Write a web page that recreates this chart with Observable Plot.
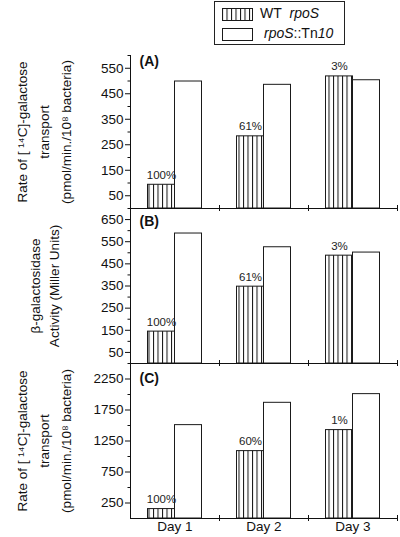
<!DOCTYPE html>
<html>
<head>
<meta charset="utf-8">
<script src="https://cdn.jsdelivr.net/npm/d3@7"></script>
<script src="https://cdn.jsdelivr.net/npm/@observablehq/plot@0.6"></script>
<style>
  html, body { margin: 0; padding: 0; background: white; }
  #root { position: relative; width: 400px; height: 537px; font-family: "Liberation Sans", Arial, sans-serif; overflow: hidden; }
  #root svg.plot-panel { position: absolute; left: 0; }
  #legend { position: absolute; left: 214px; top: 1px; width: 129px; height: 42px; border: 1px solid #222; background: white; }
  #legend .row { position: absolute; left: 7px; height: 13px; font-size: 14px; line-height: 13px; white-space: nowrap; color: #111; }
  #legend .row svg { vertical-align: top; }
  #legend .row span { position: absolute; top: -1px; }
</style>
</head>
<body>
<svg width="0" height="0" style="position:absolute">
  <defs>
    <pattern id="hatch" patternUnits="userSpaceOnUse" width="4.5" height="10">
      <rect x="0" y="0" width="4.5" height="10" fill="white"></rect>
      <line x1="0.5" y1="0" x2="0.5" y2="10" stroke="#111" stroke-width="1"></line>
    </pattern>
  </defs>
</svg>
<div id="root">
  <div id="legend"></div>
</div>
<script>
// ---- data ----
const days = ["Day 1", "Day 2", "Day 3"];
const seriesNames = ["WT rpoS", "rpoS::Tn10"];

const panelA_wt = [93, 283, 518];
const panelA_tn = [498, 485, 503];
const panelA_pct = ["100%", "61%", "3%"];

const panelB_wt = [144, 347, 487];
const panelB_tn = [587, 525, 501];
const panelB_pct = ["100%", "61%", "3%"];

const panelC_wt = [152, 1087, 1426];
const panelC_tn = [1506, 1866, 2006];
const panelC_pct = ["100%", "60%", "1%"];

const ticksA_major = [50, 150, 250, 350, 450, 550];
const ticksA_minor = [100, 200, 300, 400, 500, 600];
const ticksB_major = [50, 150, 250, 350, 450, 550, 650];
const ticksB_minor = [100, 200, 300, 400, 500, 600, 700];
const ticksC_major = [250, 750, 1250, 1750, 2250];
const ticksC_minor = [500, 1000, 1500, 2000, 2500];

const labelTransport = ["Rate of [ \u00B9\u2074C]-galactose", "transport", "(pmol/min./10\u2078 bacteria)"];
const labelGal = ["\u03B2-galactosidase", "Activity (Miller Units)"];

// ---- panels ----
function makePanel(o) {
  const rows = days.map((d, i) => ({day: d, wt: o.wt[i], tn: o.tn[i], pct: o.pct[i]}));
  const marks = [
    Plot.barY(rows, {x: "day", y: "wt", fill: "url(#hatch)", stroke: "#1a1a1a", strokeWidth: 1, insetLeft: 17.5, insetRight: 44.5}),
    Plot.barY(rows, {x: "day", y: "tn", fill: "white", stroke: "#1a1a1a", strokeWidth: 1, insetLeft: 44.5, insetRight: 17.5}),
    Plot.text(rows, {x: "day", y: "wt", text: "pct", dx: -13.5, dy: -6, lineAnchor: "bottom", fontSize: 11.5, fill: "#222"}),
    Plot.ruleY([0], {stroke: "#111"}),
    Plot.frame({anchor: "left", stroke: "#111"}),
    Plot.axisY(o.major, {tickSize: 5, tickPadding: 2, label: null, fontSize: 13.5, tickFormat: d3.format("d")}),
    Plot.axisY(o.minor, {tickSize: 2.5, tickFormat: () => "", label: null}),
    Plot.axisX({tickSize: 6, dy: -3, dx: 44.5, tickFormat: () => "", label: null}),
    Plot.text([o.letter], {frameAnchor: "top-left", dx: 9, dy: o.letterDy, textAnchor: "start", lineAnchor: "top", fontWeight: "bold", fontSize: 14}),
    Plot.text([o.label.join("\n")], {frameAnchor: "left", dx: o.labelDx, rotate: -90, textAnchor: "middle", lineAnchor: "middle", lineHeight: o.lineHeight, fontSize: 13.5})
  ];
  if (o.showDays) marks.push(Plot.axisX({tickSize: 0, tickPadding: 3, label: null, fontSize: 13.5}));
  const svg = Plot.plot({
    width: 400,
    height: o.height,
    marginLeft: 130,
    marginRight: 3,
    marginTop: o.marginTop,
    marginBottom: o.marginBottom,
    x: {domain: days, padding: 0, axis: null},
    y: {domain: o.domain, axis: null},
    style: {background: "transparent", overflow: "visible", fontFamily: "'Liberation Sans', Arial, sans-serif", fontSize: "13px", color: "#111"},
    marks
  });
  svg.classList.add("plot-panel");
  svg.style.top = o.top + "px";
  svg.style.position = "absolute";
  document.getElementById("root").appendChild(svg);
}

makePanel({wt: panelA_wt, tn: panelA_tn, pct: panelA_pct, domain: [0, 600], major: ticksA_major, minor: ticksA_minor,
  label: labelTransport, labelDx: -88.5, lineHeight: 1.6, letter: "(A)", letterDy: 1, top: 45, height: 170, marginTop: 10, marginBottom: 7, showDays: false});
makePanel({wt: panelB_wt, tn: panelB_tn, pct: panelB_pct, domain: [0, 700], major: ticksB_major, minor: ticksB_minor,
  label: labelGal, labelDx: -87.5, lineHeight: 1.42, letter: "(B)", letterDy: 7.5, top: 200, height: 170, marginTop: 8, marginBottom: 7, showDays: false});
makePanel({wt: panelC_wt, tn: panelC_tn, pct: panelC_pct, domain: [0, 2500], major: ticksC_major, minor: ticksC_minor,
  label: labelTransport, labelDx: -88.5, lineHeight: 1.6, letter: "(C)", letterDy: 10, top: 355, height: 182, marginTop: 8, marginBottom: 19, showDays: true});

// ---- legend ----
const legend = document.getElementById("legend");
const fills = ["url(#hatch)", "white"];
const legendHtml = [
  'WT&nbsp; <i>rpoS</i>',
  '<i>rpoS</i>::Tn<i>10</i>'
];
seriesNames.forEach((name, i) => {
  const row = document.createElement("div");
  row.className = "row";
  row.style.top = (6 + i * 20) + "px";
  row.title = name;
  row.innerHTML = `<svg width="31" height="13"><rect x="0.5" y="0.5" width="30" height="12" fill="${fills[i]}" stroke="#1a1a1a"></rect></svg>` +
    `<span style="left:${i === 0 ? 38 : 42}px">${legendHtml[i]}</span>`;
  legend.appendChild(row);
});
</script>
</body>
</html>
